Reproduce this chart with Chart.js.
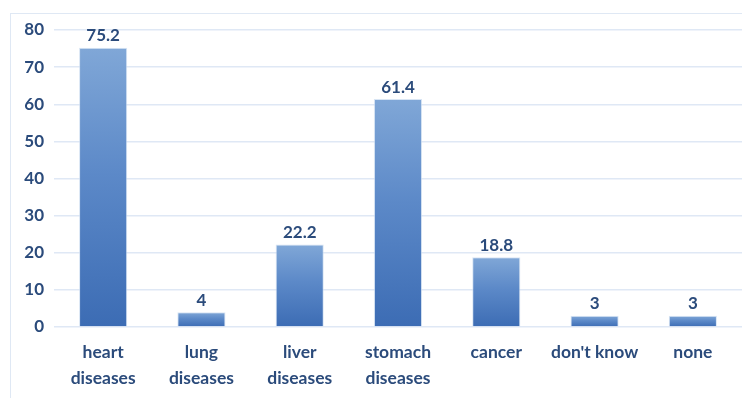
<!DOCTYPE html>
<html>
<head>
<meta charset="utf-8">
<script src="https://cdn.jsdelivr.net/npm/chart.js@4"></script>
<style>
  html, body { margin: 0; padding: 0; background: #fff; }
  #frame { position: absolute; left: 10px; top: 13px; width: 800px; height: 500px;
           border-left: 1px solid #dfe8f4; border-top: 1px solid #dfe8f4; }
  #wrap { position: absolute; left: 0; top: 0; width: 742px; height: 398px; }
</style>
</head>
<body>
<div id="frame"></div>
<div id="wrap"><canvas id="myChart" width="742" height="398"></canvas></div>
<script>
const categories = [['heart', 'diseases'], ['lung', 'diseases'], ['liver', 'diseases'],
  ['stomach', 'diseases'], 'cancer', "don't know", 'none'];
const values = [75.2, 4, 22.2, 61.4, 18.8, 3, 3];
const yTicks = [0, 10, 20, 30, 40, 50, 60, 70, 80];

const textColor = '#2b4b7b';
const fontFamily = 'Lato, "Open Sans", sans-serif';

// value labels above each bar
const barLabels = {
  id: 'barLabels',
  afterDatasetsDraw(chart) {
    const ctx = chart.ctx;
    const meta = chart.getDatasetMeta(0);
    ctx.save();
    ctx.fillStyle = textColor;
    ctx.font = 'bold 17px ' + fontFamily;
    ctx.textAlign = 'center';
    ctx.textBaseline = 'middle';
    meta.data.forEach((bar, i) => {
      ctx.fillText(String(values[i]), bar.x, bar.y - 12);
    });
    ctx.restore();
  }
};

function barFill(context) {
  const chart = context.chart;
  if (!chart.chartArea) return '#5a86c5';
  const y = chart.scales.y;
  const top = y.getPixelForValue(context.raw);
  const bottom = y.getPixelForValue(0);
  const g = chart.ctx.createLinearGradient(0, top, 0, bottom);
  g.addColorStop(0, '#80a7d7');
  g.addColorStop(0.45, '#5c89c8');
  g.addColorStop(1, '#3c6cb4');
  return g;
}

const ctx = document.getElementById('myChart').getContext('2d');
new Chart(ctx, {
  type: 'bar',
  data: {
    labels: categories,
    datasets: [{
      data: values,
      backgroundColor: barFill,
      borderColor: 'rgba(200,218,240,0.7)',
      borderWidth: 1,
      categoryPercentage: 1,
      barPercentage: 0.49
    }]
  },
  options: {
    responsive: false,
    animation: false,
    layout: { padding: { top: 30, right: 0, bottom: 0, left: 0 } },
    plugins: { legend: { display: false }, tooltip: { enabled: false } },
    scales: {
      x: {
        grid: { display: false },
        border: { display: false },
        ticks: {
          color: textColor,
          font: { family: fontFamily, size: 17.5, weight: 'bold', lineHeight: 1.5 },
          padding: 4,
          maxRotation: 0,
          autoSkip: false
        },
        afterFit(scale) { scale.height = 71; }
      },
      y: {
        min: 0,
        max: 80,
        afterBuildTicks(scale) { scale.ticks = yTicks.map(v => ({ value: v })); },
        grid: { color: '#dfe8f5', lineWidth: 1.5, drawTicks: false },
        border: { display: false },
        ticks: {
          color: textColor,
          font: { family: fontFamily, size: 17, weight: 'bold' },
          padding: 10
        },
        afterFit(scale) { scale.width = 54; }
      }
    }
  },
  plugins: [barLabels]
});
</script>
</body>
</html>
